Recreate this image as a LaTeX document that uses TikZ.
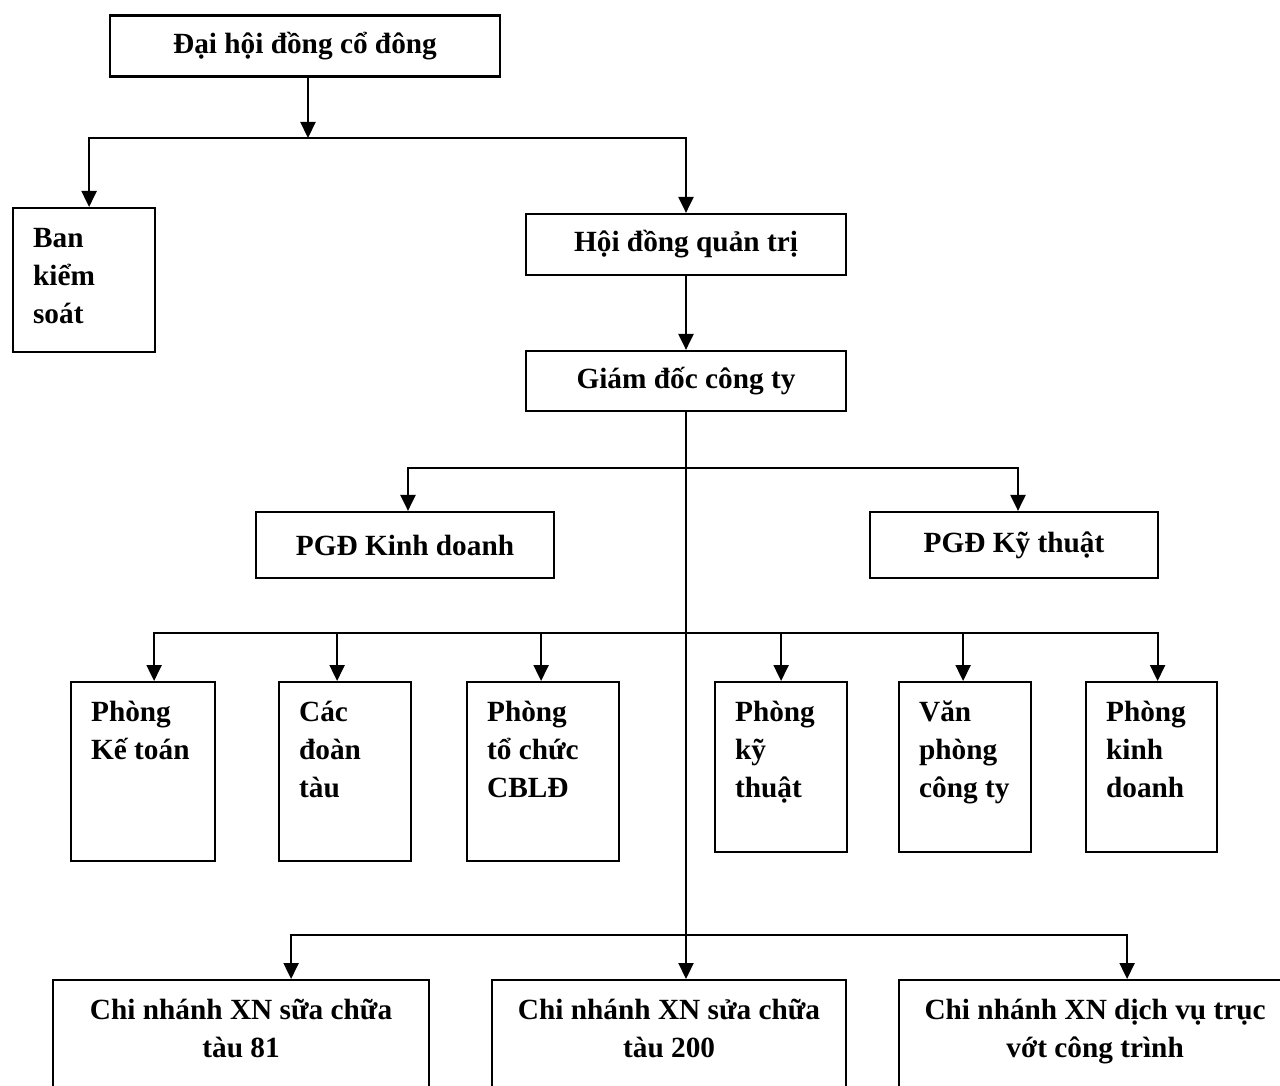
\documentclass[tikz,border=0pt]{standalone}
\usepackage{fontspec}
\setmainfont{Liberation Serif}
\usetikzlibrary{arrows.meta}
\tikzset{
unit/.style={draw, line width=2.2pt, inner sep=0pt, font=\fontsize{29.3}{38}\selectfont\bfseries},
link/.style={line width=2.2pt},
arr/.style={link, -{Triangle[length=16pt,width=15pt]}},
}
% text hung from the top of a box
\newcommand{\toptxt}[3]{\parbox[c][#2][t]{#1}{\raggedright\leftskip=20pt\rule{0pt}{39pt}#3}}
\newcommand{\midtxt}[3]{\parbox[c][#2][t]{#1}{\centering\rule{0pt}{39pt}#3}}

\begin{document}
\begin{tikzpicture}[x=1pt,y=1pt,yscale=-1]
\useasboundingbox (0,0) rectangle (1280,1086);

% Text Node
\node[unit, minimum width=390, minimum height=61] (dhcd) at (305,46) {Đại hội đồng cổ đông};
% Text Node
\node[unit, anchor=north west] (bks) at (12,207) {\toptxt{142pt}{144pt}{Ban\\ kiểm\\ soát}};
% Text Node
\node[unit, minimum width=320, minimum height=61] (hdqt) at (686,244.5) {Hội đồng quản trị};
% Text Node
\node[unit, minimum width=320, minimum height=60] (gd) at (686,381) {Giám đốc công ty};
% Text Node
\node[unit, minimum width=298, minimum height=66] (pgdkd) at (405,545) {PGĐ Kinh doanh};
% Text Node
\node[unit, minimum width=288, minimum height=66] (pgdkt) at (1014,545) {PGĐ Kỹ thuật};

% Text Node
\node[unit, anchor=north west] (ktoan) at (70,681) {\toptxt{144pt}{179pt}{Phòng\\ Kế toán}};
% Text Node
\node[unit, anchor=north west] (cdt) at (278,681) {\toptxt{132pt}{179pt}{Các\\ đoàn\\ tàu}};
% Text Node
\node[unit, anchor=north west] (tcld) at (466,681) {\toptxt{152pt}{179pt}{Phòng\\ tổ chức\\ CBLĐ}};
% Text Node
\node[unit, anchor=north west] (pkt) at (714,681) {\toptxt{132pt}{170pt}{Phòng\\ kỹ\\ thuật}};
% Text Node
\node[unit, anchor=north west] (vpct) at (898,681) {\toptxt{132pt}{170pt}{Văn\\ phòng\\ công ty}};
% Text Node
\node[unit, anchor=north west] (pkd) at (1085,681) {\toptxt{131pt}{170pt}{Phòng\\ kinh\\ doanh}};

% Text Node
\node[unit, anchor=north west] (cn1) at (52,979) {\midtxt{376pt}{140pt}{Chi nhánh XN sữa chữa\\ tàu 81}};
% Text Node
\node[unit, anchor=north west] (cn2) at (491,979) {\midtxt{354pt}{140pt}{Chi nhánh XN sửa chữa\\ tàu 200}};
% Text Node
\node[unit, anchor=north west] (cn3) at (898,979) {\midtxt{392pt}{140pt}{Chi nhánh XN dịch vụ trục\\ vớt công trình}};

% Connection
\coordinate (j1) at (308,138);
\draw[arr] (dhcd.south -| j1) -- (j1);
\draw[arr] (j1) -| ([xshift=5pt]bks.north);
\draw[arr] (j1) -| (hdqt.north);
\draw[arr] (hdqt.south) -- (gd.north);

% Connection
\draw[arr] (gd.south) -- (gd.south |- cn2.north);
\coordinate (j2) at (686,468);
\draw[arr] (j2) -| ([xshift=3pt]pgdkd.north);
\draw[arr] (j2) -| ([xshift=4pt]pgdkt.north);

% Connection
\coordinate (j3) at (686,633);
\draw[arr] (j3) -| ([xshift=11pt]ktoan.north);
\draw[arr] (j3) -| ([xshift=-8pt]cdt.north);
\draw[arr] (j3) -| ([xshift=-2pt]tcld.north);
\draw[arr] (j3) -| (pkt.north);
\draw[arr] (j3) -| ([xshift=-2pt]vpct.north);
\draw[arr] (j3) -| ([xshift=6pt]pkd.north);

% Connection
\coordinate (j4) at (686,935);
\draw[arr] (j4) -| ([xshift=50pt]cn1.north);
\draw[arr] (j4) -| ([xshift=32pt]cn3.north);

\end{tikzpicture}
\end{document}
